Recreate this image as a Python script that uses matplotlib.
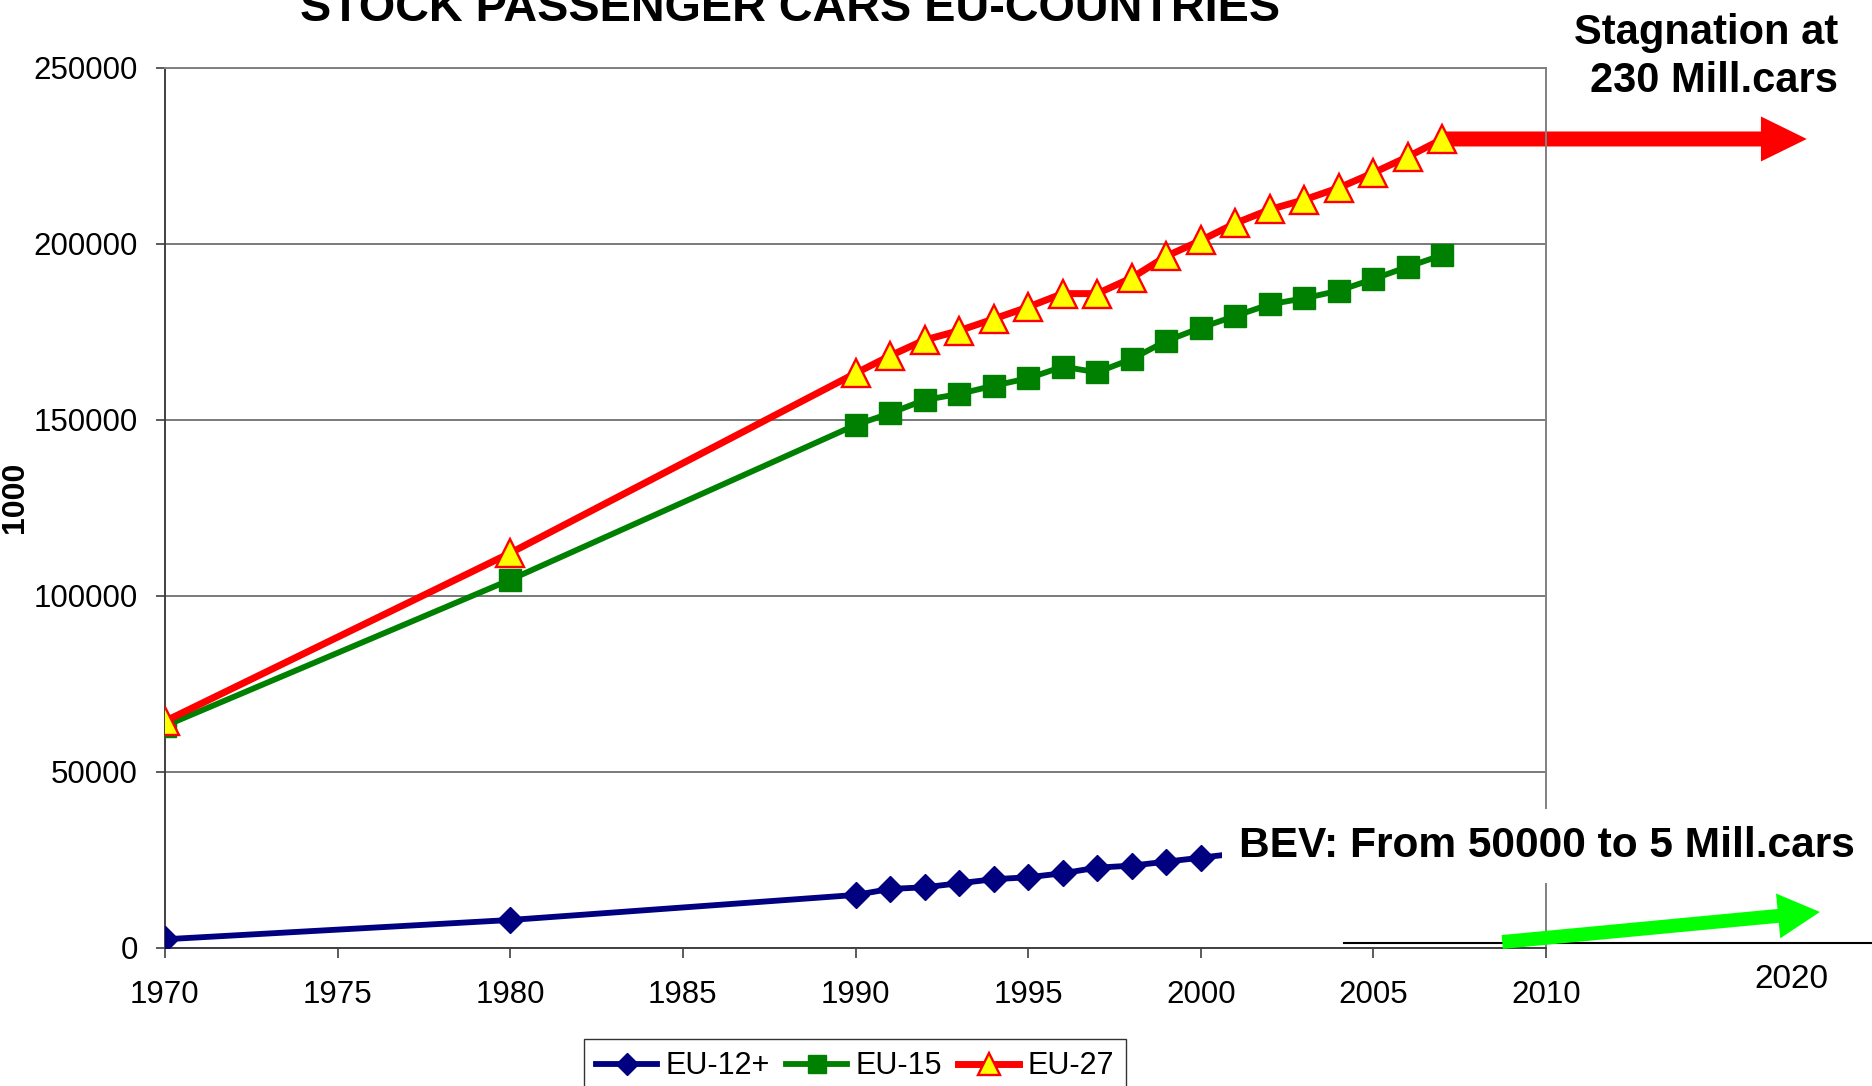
import matplotlib.pyplot as plt

plt.rcParams['font.family'] = ['Liberation Sans', 'DejaVu Sans']

# Stock of passenger cars, in 1000
years = [1970, 1980, 1990, 1991, 1992, 1993, 1994, 1995, 1996, 1997, 1998,
         1999, 2000, 2001, 2002, 2003, 2004, 2005, 2006, 2007]
years_eu12 = [1970, 1980, 1990, 1991, 1992, 1993, 1994, 1995, 1996, 1997,
              1998, 1999, 2000, 2001]
eu12 = [2470, 7950, 15060, 16760, 17240, 18380, 19520, 20090, 21220, 22820,
        23390, 24520, 25650, 26800]
eu15 = [63070, 104600, 148580, 151900, 155680, 157390, 159740, 161840, 165140,
        163540, 167330, 172440, 176220, 179550, 182870, 184580, 186730, 190050,
        193550, 196870]
eu27 = [64400, 112200, 163260, 168230, 172720, 175370, 178690, 182100, 185900,
        185900, 190370, 196520, 201000, 205880, 209800, 212580, 215960, 220230,
        224800, 229830]

fig = plt.figure(figsize=(18.72, 10.86), dpi=100)
ax = fig.add_axes([0.0881, 0.1271, 0.7378, 0.8103])

ax.plot(years_eu12, eu12, color='#000080', lw=4.2, marker='D', ms=13.5,
        mfc='#000080', mec='#000080', label='EU-12+', zorder=3)
ax.plot(years, eu15, color='#008000', lw=4.2, marker='s', ms=16.5,
        mfc='#008000', mec='#008000', label='EU-15', zorder=3)
ax.plot(years, eu27, color='#FF0000', lw=5, marker='^', ms=20.5,
        mfc='#FFFF00', mec='#FF0000', mew=1.7, label='EU-27', zorder=4)

ax.set_xlim(1970, 2010)
ax.set_ylim(0, 250000)
ax.set_xticks(range(1970, 2011, 5))
ax.set_yticks(range(0, 250001, 50000))
ax.tick_params(axis='both', labelsize=22.5, direction='out', color='#404040',
               width=1.2)
ax.tick_params(axis='x', length=7, pad=16)
ax.tick_params(axis='y', length=6.5, pad=13)
ax.grid(axis='y', color='#555555', lw=1.1)
ax.set_axisbelow(True)
for side in ['left', 'bottom']:
    ax.spines[side].set_color('#404040')
    ax.spines[side].set_linewidth(1.4)
for side in ['top', 'right']:
    ax.spines[side].set_color('#808080')
    ax.spines[side].set_linewidth(1.4)

# stagnation arrow starting at the last EU-27 value
ax.annotate('', xy=(2017.55, eu27[-1]), xytext=(years[-1], eu27[-1]),
            annotation_clip=False, zorder=2,
            arrowprops=dict(arrowstyle='simple,head_length=1.65,head_width=1.62,tail_width=0.54',
                            mutation_scale=20, color='#FF0000', lw=0,
                            shrinkA=0, shrinkB=0))

# BEV growth arrow
ax.plot([2004.15, 2019.6], [1420, 1420], color='black', lw=1.5,
        clip_on=False, zorder=2)
ax.annotate('', xy=(2017.93, 10230), xytext=(2008.73, 1700),
            annotation_clip=False, zorder=3,
            arrowprops=dict(arrowstyle='simple,head_length=1.51,head_width=1.62,tail_width=0.5',
                            mutation_scale=20, color='#00FF00', lw=0,
                            shrinkA=0, shrinkB=0))

fig.text(0.4223, 0.9807, 'STOCK PASSENGER CARS EU-COUNTRIES', ha='center',
         va='baseline', fontsize=33.7, fontweight='bold')
fig.text(0.0082, 0.5424, '1000', rotation=90, ha='center', va='center',
         fontsize=23, fontweight='bold')
fig.text(0.9821, 0.9153, 'Stagnation at\n230 Mill.cars', ha='right',
         va='baseline', multialignment='right', fontsize=30,
         fontweight='bold', linespacing=1.25)
fig.text(0.6616, 0.2112, 'BEV: From 50000 to 5 Mill.cars', ha='left',
         va='baseline', fontsize=30.6, fontweight='bold',
         bbox=dict(boxstyle='square,pad=0.4', fc='white', ec='none'))
fig.text(0.9567, 0.0902, '2020', ha='center', va='baseline', fontsize=24)

leg = fig.legend(loc='upper center', bbox_to_anchor=(0.4567, 0.0433),
                 ncol=3, fontsize=22, frameon=True, fancybox=False,
                 edgecolor='black', borderaxespad=0, handlelength=2.0,
                 handletextpad=0.25, columnspacing=0.55, borderpad=0.4,
                 markerscale=0.8)
leg.get_frame().set_linewidth(1.0)

fig.savefig('out.png', dpi=100)
